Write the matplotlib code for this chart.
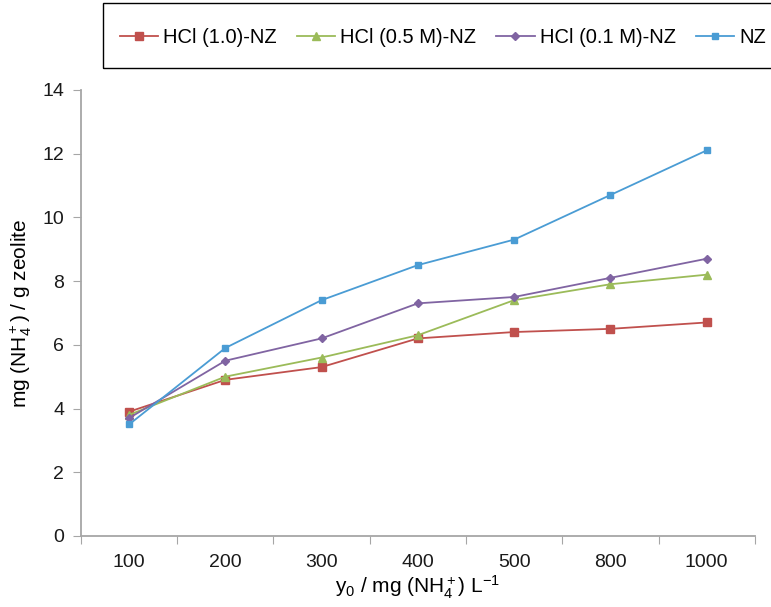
"""
Ammonium uptake vs initial concentration for acid-treated zeolites
"""

import matplotlib
matplotlib.use('Agg')
import matplotlib.pyplot as plt
from matplotlib.patches import Rectangle

plt.rcParams['font.family'] = ['Liberation Sans', 'DejaVu Sans']
plt.rcParams['mathtext.fontset'] = 'custom'
plt.rcParams['mathtext.rm'] = 'Liberation Sans'
plt.rcParams['mathtext.it'] = 'Liberation Sans:italic'
plt.rcParams['mathtext.default'] = 'regular'

# Data
concentrations = ['100', '200', '300', '400', '500', '800', '1000']
hcl_10 = [3.9, 4.9, 5.3, 6.2, 6.4, 6.5, 6.7]
hcl_05 = [3.8, 5.0, 5.6, 6.3, 7.4, 7.9, 8.2]
hcl_01 = [3.7, 5.5, 6.2, 7.3, 7.5, 8.1, 8.7]
nz = [3.5, 5.9, 7.4, 8.5, 9.3, 10.7, 12.1]

series = [
    ('HCl (1.0)-NZ', hcl_10, '#C0504D', 's', 5.5),
    ('HCl (0.5 M)-NZ', hcl_05, '#9BBB59', '^', 6),
    ('HCl (0.1 M)-NZ', hcl_01, '#8064A2', 'D', 4.5),
    ('NZ', nz, '#4A9CD4', 's', 5),
]

fig = plt.figure(figsize=(7.71, 6.07), dpi=100)
ax = fig.add_axes([0.105, 0.117, 0.874, 0.735])

x = list(range(len(concentrations)))
handles = []
for label, vals, color, marker, ms in series:
    h, = ax.plot(x, vals, color=color, marker=marker, markersize=ms,
                 linewidth=1.3, label=label)
    handles.append(h)

ax.set_xlim(-0.5, len(concentrations) - 0.5)
ax.set_ylim(0, 14)
ax.set_yticks(range(0, 15, 2))

# ticks between categories, labels at category centres
ax.set_xticks([i - 0.5 for i in range(len(concentrations) + 1)])
ax.set_xticklabels([])
ax.set_xticks(x, minor=True)
ax.set_xticklabels(concentrations, minor=True)
ax.tick_params(axis='x', which='minor', length=0, pad=13)
ax.tick_params(axis='x', which='major', length=6, color='#A6A6A6', direction='out')
ax.tick_params(axis='y', length=6, color='#A6A6A6', direction='out', pad=6)
ax.tick_params(which='both', labelsize=14, labelcolor='#1a1a1a')

for s in ['top', 'right']:
    ax.spines[s].set_visible(False)
for s in ['left', 'bottom']:
    ax.spines[s].set_color('#A6A6A6')
    ax.spines[s].set_linewidth(1.3)

ax.set_ylabel(r'mg (NH$_4^+$) / g zeolite', fontsize=15, labelpad=6)
ax.set_xlabel(r'y$_0$ / mg (NH$_4^+$) L$^{-1}$', fontsize=15, labelpad=2)

# legend box runs off the right edge like the original
fig.patches.append(Rectangle((0.1336, 0.888), 0.9, 0.107, transform=fig.transFigure,
                             fill=False, edgecolor='black', linewidth=1.0))
fig.legend(handles=handles, loc='center left', bbox_to_anchor=(0.145, 0.938),
           ncol=4, frameon=False, fontsize=14.5, handlelength=1.9,
           handletextpad=0.25, columnspacing=1.0, borderaxespad=0)

plt.savefig('out.png', dpi=100)
